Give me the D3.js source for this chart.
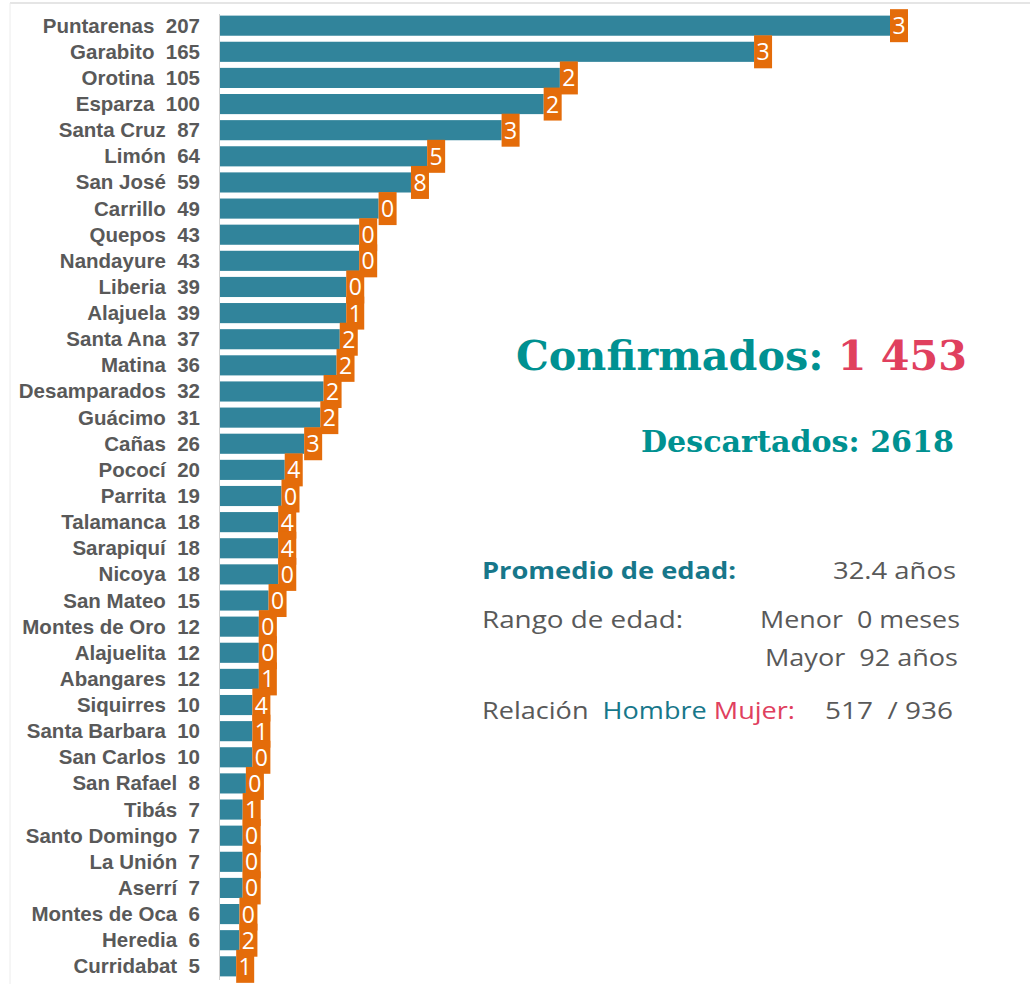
<!DOCTYPE html>
<html><head><meta charset="utf-8">
<script src="https://cdn.jsdelivr.net/npm/d3@7"></script>
<style>html,body{margin:0;padding:0;background:#fff}svg{display:block}</style>
</head><body>
<script>
const cantones = ["Puntarenas","Garabito","Orotina","Esparza","Santa Cruz","Limón","San José","Carrillo","Quepos","Nandayure","Liberia","Alajuela","Santa Ana","Matina","Desamparados","Guácimo","Cañas","Pococí","Parrita","Talamanca","Sarapiquí","Nicoya","San Mateo","Montes de Oro","Alajuelita","Abangares","Siquirres","Santa Barbara","San Carlos","San Rafael","Tibás","Santo Domingo","La Unión","Aserrí","Montes de Oca","Heredia","Curridabat"];
const confirmados = [207,165,105,100,87,64,59,49,43,43,39,39,37,36,32,31,26,20,19,18,18,18,15,12,12,12,10,10,10,8,7,7,7,7,6,6,5];
const extra = [3,3,2,2,3,5,8,0,0,0,0,1,2,2,2,2,3,4,0,4,4,0,0,0,0,1,4,1,0,0,1,0,0,0,0,2,1];

const W=1030,H=984;
const svg=d3.select("body").append("svg").attr("width",W).attr("height",H);
const teal="#31849b", orange="#e46c0a", gray="#595959";

// frame lines
svg.append("line").attr("x1",10).attr("x2",W).attr("y1",3).attr("y2",3).attr("stroke","#dcdcdc").attr("stroke-width",1.5);
svg.append("line").attr("x1",10).attr("x2",10).attr("y1",3).attr("y2",H).attr("stroke","#ececec").attr("stroke-width",1);

const x=d3.scaleLinear().domain([0,207]).range([220,890]);
const y=d3.scaleBand().domain(cantones).range([13,979]).paddingInner(0.23).paddingOuter(0.1);

svg.append("line").attr("x1",219.5).attr("x2",219.5).attr("y1",14).attr("y2",980).attr("stroke","#cfcfcf").attr("stroke-width",1);

const rows=cantones.map((c,i)=>({c,v:confirmados[i],e:extra[i]}));

svg.selectAll("rect.bar").data(rows).join("rect").attr("class","bar")
 .attr("x",x(0)).attr("y",d=>y(d.c)).attr("width",d=>x(d.v)-x(0)).attr("height",y.bandwidth()).attr("fill",teal);

const g=svg.selectAll("g.box").data(rows).join("g").attr("class","box");
g.append("rect").attr("x",d=>x(d.v)).attr("y",d=>y(d.c)+y.bandwidth()/2-16.5).attr("width",18).attr("height",33).attr("fill",orange);
g.append("text").attr("x",d=>x(d.v)+9).attr("y",d=>y(d.c)+y.bandwidth()/2+8.5).attr("text-anchor","middle")
 .attr("font-family","Open Sans").attr("font-size",23).attr("fill","#fff").text(d=>d.e);

svg.selectAll("text.lab").data(rows).join("text").attr("class","lab")
 .attr("x",200).attr("y",d=>y(d.c)+y.bandwidth()/2+7).attr("text-anchor","end")
 .attr("font-family","Liberation Sans, Arial").attr("font-weight","bold").attr("font-size",20.5).attr("fill",gray)
 .text(d=>d.c+"\u00a0\u00a0"+d.v);

// right side text
const serif="DejaVu Serif";
const t1=svg.append("text").attr("x",516).attr("y",370).attr("font-family",serif).attr("font-weight","bold").attr("font-size",41)
  .attr("textLength",451).attr("lengthAdjust","spacingAndGlyphs");
t1.append("tspan").attr("fill","#009191").text("Confirmados: ");
t1.append("tspan").attr("fill","#e0405e").text("1 453");
svg.append("text").attr("x",641).attr("y",452).attr("font-family",serif).attr("font-weight","bold").attr("font-size",30)
  .attr("textLength",313).attr("lengthAdjust","spacingAndGlyphs").attr("fill","#009191").text("Descartados: 2618");

const sans="Open Sans";
function txt(xp,yp,len,s,col,bold){
  return svg.append("text").attr("x",xp).attr("y",yp).attr("font-family",sans).attr("font-size",24)
   .attr("font-weight",bold?"bold":"normal").attr("fill",col).attr("textLength",len).attr("lengthAdjust","spacingAndGlyphs").text(s);
}
txt(482,579,254,"Promedio de edad:","#17778a",true);
txt(833,579,123,"32.4 años",gray);
txt(482,628,201,"Rango de edad:",gray);
txt(760,628,200,"Menor\u00a0\u00a00 meses",gray);
txt(765,666,193,"Mayor\u00a0\u00a092 años",gray);
const r=svg.append("text").attr("x",482).attr("y",719).attr("font-family",sans).attr("font-size",24)
  .attr("textLength",313).attr("lengthAdjust","spacingAndGlyphs");
r.append("tspan").attr("fill",gray).text("Relación\u00a0\u00a0");
r.append("tspan").attr("fill","#17778a").text("Hombre ");
r.append("tspan").attr("fill","#e0405e").text("Mujer:");
txt(825,719,128,"517\u00a0\u00a0/ 936",gray);
</script>
</body></html>
